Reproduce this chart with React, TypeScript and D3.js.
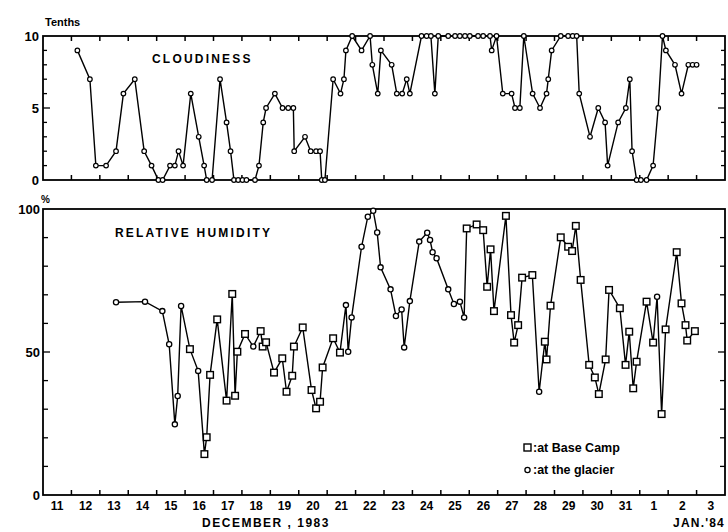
import React from "react";
import * as d3 from "d3";

// Day numbers: Dec 11 00h = 11 ... Jan 1 00h = 32, end Jan 3 = 35
const cloudDays = [12.21,12.65,12.86,13.22,13.57,13.83,14.23,14.56,14.82,15.06,15.21,15.47,15.64,15.77,15.93,16.2,16.48,16.67,16.76,16.95,17.23,17.46,17.6,17.72,17.87,18.02,18.16,18.46,18.6,18.75,18.85,19.16,19.43,19.63,19.81,19.84,20.22,20.42,20.61,20.75,20.81,20.92,21.21,21.47,21.59,21.66,21.88,22.21,22.51,22.59,22.78,22.89,23.27,23.45,23.64,23.8,23.91,24.32,24.5,24.65,24.79,24.91,25.26,25.5,25.67,25.85,26.02,26.31,26.49,26.73,26.79,26.96,27.18,27.49,27.61,27.78,27.92,28.23,28.49,28.72,28.78,28.9,29.22,29.48,29.64,29.78,29.87,30.25,30.54,30.78,30.87,31.24,31.51,31.65,31.73,31.89,32.04,32.24,32.47,32.65,32.8,32.92,33.24,33.47,33.71,33.86,34.0];
const cloudValues = [9,7,1,1,2,6,7,2,1,0,0,1,1,2,1,6,3,1,0,0,7,4,2,0,0,0,0,0,1,4,5,6,5,5,5,2,3,2,2,2,0,0,7,6,7,9,10,9,10,8,6,9,8,6,6,7,6,10,10,10,6,10,10,10,10,10,10,10,10,10,9,10,6,6,5,5,10,6,5,6,7,9,10,10,10,10,6,3,5,4,1,4,5,7,2,0,0,0,1,5,10,9,8,6,8,8,8];

const humDays = [13.57,14.59,15.2,15.44,15.64,15.74,15.86,16.17,16.46,16.68,16.76,16.88,17.13,17.46,17.66,17.76,17.84,18.11,18.4,18.66,18.73,18.85,19.13,19.42,19.57,19.77,19.83,20.14,20.45,20.61,20.75,20.84,21.21,21.45,21.66,21.74,21.86,22.21,22.43,22.62,22.76,22.88,23.23,23.42,23.62,23.71,23.91,24.24,24.52,24.62,24.71,24.85,25.26,25.46,25.67,25.82,25.91,26.26,26.49,26.63,26.75,26.87,27.29,27.47,27.58,27.72,27.86,28.22,28.46,28.66,28.72,28.86,29.22,29.48,29.62,29.75,29.92,30.22,30.42,30.56,30.8,30.92,31.3,31.5,31.63,31.77,31.89,32.24,32.47,32.61,32.77,32.91,33.3,33.47,33.61,33.67,33.94];
const humValues = [67.4,67.6,64.3,52.7,24.7,34.6,66.1,51,43.4,14.3,20.2,42,61.4,33,70.3,34.7,50.1,56.3,51.9,57.3,51.9,53.4,42.8,47.8,36.1,41.7,51.9,58.6,36.7,30.3,32.6,44.6,54.8,49.8,66.4,50.1,62.1,86.8,97.3,99.4,91.8,79.6,71.9,62.6,64.9,51.6,67.8,88.6,91.7,89.2,84.9,82.8,71.9,66.8,67.6,62.1,93.2,94.6,92.6,72.8,85.9,64.3,97.6,62.9,53.3,59.4,76,76.9,36.1,53.6,47.4,66.2,90.1,86.8,85.3,94.1,75.2,45.5,41.1,35.3,47.4,71.7,65.3,45.5,57.1,37.3,46.6,67.6,53.3,69.3,28.3,57.9,84.9,67,59.4,54,57.3];
// s = at Base Camp, c = at the glacier
const humSites = "cccccccscssssssssscsssssssssssssssccccccccccccccccccccccsssssssssssscsssssssssssssssssssscssssssss";

const dayLabels = ["11","12","13","14","15","16","17","18","19","20","21","22","23","24","25","26","27","28","29","30","31","1","2","3"];
const cloudTickLabels = [0, 5, 10];
const humTickLabels = [0, 50, 100];

const W = 728, H = 532;
const FONT = "'Liberation Sans', Arial, sans-serif";

export default function App() {
  const x = d3.scaleLinear().domain([11, 35]).range([43, 725]);
  const yC = d3.scaleLinear().domain([0, 10]).range([180, 36]);
  const yH = d3.scaleLinear().domain([0, 100]).range([495, 209]);

  const cloud = cloudDays.map((d, i) => ({ d, v: cloudValues[i] }));
  const hum = humDays.map((d, i) => ({ d, v: humValues[i], s: humSites[i] || "s" }));

  const lineC = d3.line<any>().x((p) => x(p.d)).y((p) => yC(p.v));
  const lineH = d3.line<any>().x((p) => x(p.d)).y((p) => yH(p.v));

  const dayBounds = d3.range(12, 35);
  const [x0, x1] = x.range();

  return (
    <svg width={W} height={H} style={{ position: "absolute", left: 0, top: 0, background: "#fff" }} fontFamily={FONT}>
      <rect width={W} height={H} fill="#fff" />
      {/* ---- Top panel ---- */}
      <rect x={x0} y={yC(10)} width={x1 - x0} height={yC(0) - yC(10)} fill="none" stroke="#000" strokeWidth={1.8} />
      {dayBounds.map((d) => (
        <g key={"tc" + d}>
          <line x1={x(d)} x2={x(d)} y1={yC(10)} y2={yC(10) + 5} stroke="#000" strokeWidth={1.5} />
          <line x1={x(d)} x2={x(d)} y1={yC(0)} y2={yC(0) - 5} stroke="#000" strokeWidth={1.5} />
        </g>
      ))}
      {d3.range(1, 10).map((v) => (
        <g key={"cy" + v}>
          <line x1={x0} x2={x0 + (v === 5 ? 7 : 4)} y1={yC(v)} y2={yC(v)} stroke="#000" strokeWidth={1.3} />
          <line x1={x1} x2={x1 - (v === 5 ? 7 : 4)} y1={yC(v)} y2={yC(v)} stroke="#000" strokeWidth={1.3} />
        </g>
      ))}
      {cloudTickLabels.map((v) => (
        <text key={"cl" + v} x={39} y={yC(v) + 5} textAnchor="end" fontSize={13} fontWeight="bold">{v}</text>
      ))}
      <text x={45} y={26} fontSize={11} fontWeight="bold">Tenths</text>
      <text x={152} y={63} fontSize={12} fontWeight="bold" letterSpacing={2.2}>CLOUDINESS</text>
      <path d={lineC(cloud) || ""} fill="none" stroke="#000" strokeWidth={1.4} />
      {cloud.map((p, i) => (
        <circle key={"cc" + i} cx={x(p.d)} cy={yC(p.v)} r={2.3} fill="#fff" stroke="#000" strokeWidth={1.2} />
      ))}

      {/* ---- Bottom panel ---- */}
      <rect x={x0} y={yH(100)} width={x1 - x0} height={yH(0) - yH(100)} fill="none" stroke="#000" strokeWidth={1.8} />
      {dayBounds.map((d) => (
        <line key={"th" + d} x1={x(d)} x2={x(d)} y1={yH(0)} y2={yH(0) - 5} stroke="#000" strokeWidth={1.5} />
      ))}
      {d3.range(10, 100, 10).map((v) => (
        <g key={"hy" + v}>
          <line x1={x0} x2={x0 + (v === 50 ? 7 : 5)} y1={yH(v)} y2={yH(v)} stroke="#000" strokeWidth={1.3} />
          <line x1={x1} x2={x1 - (v === 50 ? 7 : 5)} y1={yH(v)} y2={yH(v)} stroke="#000" strokeWidth={1.3} />
        </g>
      ))}
      {humTickLabels.map((v) => (
        <text key={"hl" + v} x={40} y={yH(v) + 5} textAnchor="end" fontSize={13} fontWeight="bold">{v}</text>
      ))}
      <text x={41} y={203} fontSize={10} fontWeight="bold">%</text>
      <text x={115} y={237} fontSize={12} fontWeight="bold" letterSpacing={2.2}>RELATIVE  HUMIDITY</text>
      <path d={lineH(hum) || ""} fill="none" stroke="#000" strokeWidth={1.4} />
      {hum.map((p, i) =>
        p.s === "c" ? (
          <circle key={"hc" + i} cx={x(p.d)} cy={yH(p.v)} r={2.6} fill="#fff" stroke="#000" strokeWidth={1.3} />
        ) : (
          <rect key={"hs" + i} x={x(p.d) - 3.3} y={yH(p.v) - 3.3} width={6.6} height={6.6} fill="#fff" stroke="#000" strokeWidth={1.4} />
        )
      )}

      {/* legend */}
      <rect x={524} y={444} width={7} height={7} fill="#fff" stroke="#000" strokeWidth={1.4} />
      <text x={533} y={452} fontSize={12.5} fontWeight="bold">:at Base Camp</text>
      <circle cx={527.5} cy={470} r={2.6} fill="#fff" stroke="#000" strokeWidth={1.3} />
      <text x={533} y={474} fontSize={12.5} fontWeight="bold">:at  the glacier</text>

      {/* x labels */}
      {dayLabels.map((l, i) => (
        <text key={"xl" + i} x={x(11 + i + 0.5)} y={510} textAnchor="middle" fontSize={12} fontWeight="bold">{l}</text>
      ))}
      <text x={266} y={527} textAnchor="middle" fontSize={12} fontWeight="bold" letterSpacing={1.5}>DECEMBER , 1983</text>
      <text x={725} y={527} textAnchor="end" fontSize={12} fontWeight="bold" letterSpacing={1.2}>JAN.'84</text>
    </svg>
  );
}
